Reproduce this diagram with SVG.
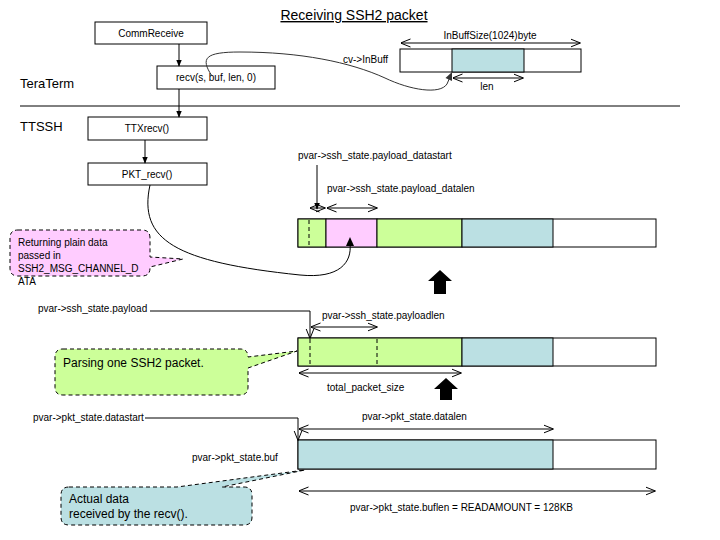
<svg xmlns="http://www.w3.org/2000/svg" width="720" height="540" viewBox="0 0 720 540">
<defs>
<marker id="fa" viewBox="0 0 10 10" refX="9" refY="5" markerWidth="7" markerHeight="7" orient="auto" markerUnits="userSpaceOnUse"><path d="M0,1 L10,5 L0,9 Z" fill="#000"/></marker>
<marker id="oa" viewBox="0 0 10 10" refX="9.5" refY="5" markerWidth="10" markerHeight="10" orient="auto-start-reverse" markerUnits="userSpaceOnUse"><path d="M0,1 L10,5 L0,9" fill="none" stroke="#000" stroke-width="1"/></marker>
</defs>
<style>
text{font-family:"Liberation Sans",Arial,sans-serif;fill:#000}
.s{font-size:10px}
.m{font-size:12px}
.l{font-size:13px}
.box{fill:#fff;stroke:#000;stroke-width:1}
.ln{fill:none;stroke:#000;stroke-width:1}
.g{fill:#CCFF99;stroke:#000}
.p{fill:#FFCCFF;stroke:#000}
.t{fill:#BBE0E3;stroke:#000}
.w{fill:#fff;stroke:#000}
.dash{stroke:#000;stroke-dasharray:4,3;fill:none}
.call{stroke:#000;stroke-dasharray:4,3;stroke-width:1}
</style>
<rect width="720" height="540" fill="#fff"/>
<text x="354" y="20" text-anchor="middle" style="font-size:14px" text-decoration="underline">Receiving SSH2  packet</text>
<line x1="20" y1="106" x2="680" y2="106" class="ln"/>
<text x="20" y="88" class="l">TeraTerm</text>
<text x="20" y="131" class="l">TTSSH</text>

<g id="commreceive"><rect x="95" y="22" width="112" height="22" class="box"/><text x="151" y="37" class="s" text-anchor="middle">CommReceive</text></g>
<g id="recv"><rect x="157" y="66" width="118" height="23" class="box"/><text x="216" y="81" class="s" text-anchor="middle">recv(s,  buf, len, 0)</text></g>
<g id="ttxrecv"><rect x="88" y="117" width="119" height="23" class="box"/><text x="147" y="132" class="s" text-anchor="middle">TTXrecv()</text></g>
<g id="pktrecv"><rect x="88" y="163" width="119" height="22" class="box"/><text x="147" y="178" class="s" text-anchor="middle">PKT_recv()</text></g>

<g id="inbuff">
<rect x="400" y="49" width="181" height="23" class="w"/>
<rect x="452" y="49" width="72" height="23" class="t"/>
<text x="343" y="63" class="s">cv-&gt;InBuff</text>
<line x1="401" y1="43" x2="580" y2="43" class="ln" marker-start="url(#oa)" marker-end="url(#oa)"/>
<text x="490" y="39" class="s" text-anchor="middle">InBuffSize(1024)byte</text>
<line x1="453" y1="78" x2="523" y2="78" class="ln" marker-start="url(#oa)" marker-end="url(#oa)"/>
<text x="487" y="90" class="s" text-anchor="middle">len</text>
</g>

<g id="buf1">
<rect x="298" y="219" width="358" height="28" class="w"/>
<rect x="298" y="219" width="28" height="28" class="g"/>
<rect x="326" y="219" width="51" height="28" class="p"/>
<rect x="377" y="219" width="85" height="28" class="g"/>
<rect x="462" y="219" width="91" height="28" class="t"/>
<line x1="309" y1="220" x2="309" y2="246" class="dash"/>
<text x="298" y="159" class="s">pvar-&gt;ssh_state.payload_datastart</text>
<line x1="317" y1="165" x2="317" y2="209" class="ln" marker-end="url(#fa)"/>
<line x1="310" y1="208" x2="325" y2="208" class="ln" marker-start="url(#oa)" marker-end="url(#oa)"/>
<line x1="327" y1="208" x2="377" y2="208" class="ln" marker-start="url(#oa)" marker-end="url(#oa)"/>
<text x="327" y="192" class="s">pvar-&gt;ssh_state.payload_datalen</text>
<path d="M440,270 L452,281 L446,281 L446,294 L434,294 L434,281 L428,281 Z" fill="#000"/>
</g>

<g id="callout-plain">
<path d="M18,230 H142 Q150,230 150,238 V257 L183,259 L150,267 V268 Q150,276 142,276 H18 Q10,276 10,268 V238 Q10,230 18,230 Z" fill="#FFCCFF" class="call"/>
<text x="18" y="246" class="s">Returning plain data</text>
<text x="18" y="259" class="s">passed in</text>
<text x="18" y="272" class="s">SSH2_MSG_CHANNEL_D</text>
<text x="18" y="285" class="s">ATA</text>
</g>

<g id="buf2">
<rect x="298" y="338" width="358" height="28" class="w"/>
<rect x="298" y="338" width="164" height="28" class="g"/>
<rect x="462" y="338" width="91" height="28" class="t"/>
<line x1="310" y1="339" x2="310" y2="365" class="dash"/>
<line x1="377" y1="339" x2="377" y2="365" class="dash"/>
<text x="38" y="312" class="s">pvar-&gt;ssh_state.payload</text>
<polyline points="150,311 310,311 310,338" class="ln" marker-end="url(#oa)"/>
<line x1="311" y1="327" x2="377" y2="327" class="ln" marker-start="url(#oa)" marker-end="url(#oa)"/>
<text x="322" y="319" class="s">pvar-&gt;ssh_state.payloadlen</text>
<line x1="299" y1="373" x2="461" y2="373" class="ln" marker-start="url(#oa)" marker-end="url(#oa)"/>
<text x="327" y="391" class="s">total_packet_size</text>
<path d="M446,378 L458,389 L452,389 L452,400 L440,400 L440,389 L434,389 Z" fill="#000"/>
</g>

<g id="callout-parse">
<path d="M63,349 H240 Q248,349 248,357 L297,351 L248,368 V387 Q248,395 240,395 H63 Q55,395 55,387 V357 Q55,349 63,349 Z" fill="#CCFF99" class="call"/>
<text x="63" y="367" class="m">Parsing one SSH2 packet.</text>
</g>

<g id="buf3">
<rect x="298" y="440" width="358" height="29" class="w"/>
<rect x="298" y="440" width="255" height="29" class="t"/>
<text x="33" y="421" class="s">pvar-&gt;pkt_state.datastart</text>
<polyline points="145,418 298,418 298,440" class="ln" marker-end="url(#oa)"/>
<line x1="299" y1="429" x2="553" y2="429" class="ln" marker-start="url(#oa)" marker-end="url(#oa)"/>
<text x="362" y="420" class="s">pvar-&gt;pkt_state.datalen</text>
<text x="192" y="461" class="s">pvar-&gt;pkt_state.buf</text>
<line x1="299" y1="491" x2="655" y2="491" class="ln" marker-start="url(#oa)" marker-end="url(#oa)"/>
<text x="350" y="511" class="s">pvar-&gt;pkt_state.buflen = READAMOUNT = 128KB</text>
</g>

<g id="callout-actual">
<path d="M69,487 H177 L305,470 L222,487 H244 Q252,487 252,495 V517 Q252,525 244,525 H69 Q61,525 61,517 V495 Q61,487 69,487 Z" fill="#BBE0E3" class="call"/>
<text x="69" y="503" class="m">Actual data</text>
<text x="69" y="518" class="m">received by the recv().</text>
</g>

<g id="connectors">
<line x1="179" y1="44" x2="179" y2="66" class="ln" marker-end="url(#fa)"/>
<line x1="179" y1="89" x2="179" y2="117" class="ln" marker-end="url(#fa)"/>
<line x1="145" y1="140" x2="145" y2="163" class="ln" marker-end="url(#fa)"/>
<path d="M212,76 C200,58 205,52 240,52 C300,52 350,62 385,78 C410,90 440,95 447,84 L450,77" fill="none" stroke="#333" stroke-width="1"/>
<polygon points="452,72 452,81 445.5,78" fill="#333"/>
<path d="M150,185 C138,240 175,262 300,275 C340,279 352,262 350,244" fill="none" stroke="#000" stroke-width="1"/>
<polygon points="350,237 354,246 346,246" fill="#000"/>
</g>
</svg>
